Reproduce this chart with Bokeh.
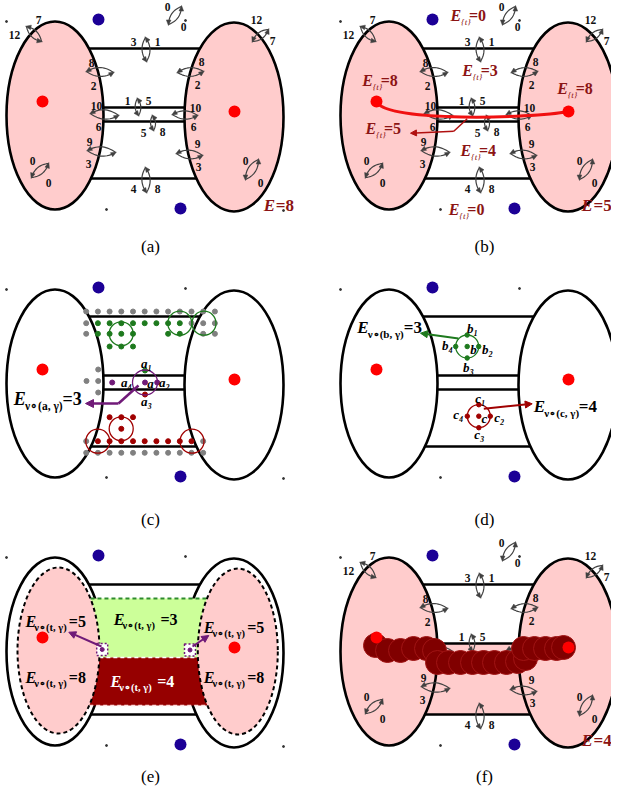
import numpy as np
from bokeh.plotting import figure
from bokeh.models import Range1d, Arrow, NormalHead
from bokeh.embed import file_html
from bokeh.resources import INLINE
from bokeh.core.properties import value

# ---------------- colours / fonts ----------------
FONT = "Liberation Serif"
PINK = "#ffcccc"
RED = "#ff0000"
BLUE = "#1c0096"
DRED_TXT = "#8c1414"
ARROW_GRAY = "#404040"
GREEN = "#1e7a1e"
CRED = "#a00000"
GRAY = "#808080"
PURPLE = "#701a78"
LGREEN = "#ccff99"
DKRED = "#960000"

# ---------------- panels ----------------
PANEL_LABELS = ["(a)", "(b)", "(c)", "(d)", "(e)", "(f)"]
PANEL_DX = [0, 334, 0, 334, 0, 334]
PANEL_DY = [0, 0, 268, 268, 536, 536]
CAPTION_X = [150, 484, 150, 484, 150, 484]
CAPTION_Y = [246, 246, 519, 519, 776, 776]

# base geometry (panel a coordinates)
ELL_X = [54.5, 233.5]
ELL_Y = [115, 116.5]
ELL_W = [97, 99]
ELL_H = [188, 189]
RED_DOT_X = [42, 234]
RED_DOT_Y = [101, 111]
BLUE_DOT_X = [98, 180]
BLUE_DOT_Y = [19, 208]
LINE_Y = [48, 107, 121, 178]
SPECK_X = [6, 185, 106, 283]
SPECK_Y = [21, 20, 209, 210]

# double arrows (panel a coordinates)
ARR_X1 = [26, 145, 181, 268, 86, 177, 90, 137, 152, 172, 87, 176, 48, 145, 258]
ARR_Y1 = [26, 37, 6, 29, 71, 72, 113, 98, 115, 114, 150, 153, 163, 167, 159]
ARR_X2 = [41, 146, 168, 252, 113, 203, 118, 138, 153, 197, 115, 202, 31, 146, 245]
ARR_Y2 = [41, 61, 24, 41, 72, 71, 115, 115, 130, 115, 152, 155, 177, 192, 179]
NUM_TEXT = ["7", "12", "3", "1", "0", "0", "12", "7", "8", "2", "8", "2", "10", "6",
            "1", "5", "5", "8", "10", "6", "9", "3", "9", "3", "0", "0", "4", "8", "0", "0"]
NUM_X = [38, 14, 133, 157, 167, 183, 256, 272, 91, 93, 201, 197, 96, 98,
         127, 148, 143, 162, 195, 193, 89, 88, 197, 198, 32, 48, 133, 157, 245, 260]
NUM_Y = [19, 34, 41, 41, 6, 26, 19, 40, 62, 85, 61, 84, 105, 126,
         100, 100, 132, 131, 107, 126, 141, 163, 143, 166, 160, 182, 188, 188, 160, 182]

# panel (b) energy labels: x of E, y, value
B_EX = [450, 461.7, 361.7, 556.7, 365, 460, 448.3]
B_EY = [15, 70.3, 80, 88.3, 128.3, 150, 209.3]
B_VAL = ["=0", "=3", "=8", "=8", "=5", "=4", "=0"]
E_TOTAL = ["E=8", "E=5", None, None, None, "E=4"]
E_TOTAL_X = [263.3, 581, 0, 0, 0, 581]
E_TOTAL_Y = [205, 205, 0, 0, 0, 740]

# panel (c) grid of dots
GRID_X0, GRID_DX = 85.7, 11.7
GRID_ROWS_Y = [311, 322.7, 333.3, 346, 416.7, 428.3, 440.7, 452.3]
GRID_ROWS = ["kkkkkkkkkkkk", "kggggggggkkk", "kgggg..gg.kk", "..ggg.......",
             "..rrr.......", "...r........", "krrrrrrrrrk.", "kkkkkkkkkkk."]
C_GCIRC_X = [120.7, 179.3, 203.5]
C_GCIRC_Y = [333.3, 322.7, 322.7]
C_RCIRC_X = [120.7, 97.3, 191.5]
C_RCIRC_Y = [428.3, 440.7, 440.7]

# panel (f) blob of circles
BLOB_X = [375, 387, 400, 413, 426, 434, 437, 448, 460, 472, 483, 494, 506, 517, 525,
          523, 534, 545, 556, 563]
BLOB_Y = [645, 650, 650, 648, 648, 650, 662, 662, 662, 662, 662, 662, 662, 661, 658,
          648, 648, 648, 648, 647]

# ---------------- figure ----------------
W, H = 611, 786
p = figure(width=W, height=H, x_range=Range1d(0, W), y_range=Range1d(H, 0),
           output_backend="svg", toolbar_location=None, min_border=0,
           x_axis_location=None, y_axis_location=None)
p.grid.visible = False
p.outline_line_color = None
p.background_fill_color = "white"


def ell_x(cx, cy, w, h, y, side):
    t = max(0.0, 1 - ((y - cy) / (h / 2)) ** 2)
    return cx + side * (w / 2) * np.sqrt(t)


def txt(x, y, s, size, color="black", style="normal", align="center", baseline="middle"):
    p.text(x=[x], y=[y], text=[s], text_font=value(FONT), text_font_size=f"{size}px",
           text_font_style=style, text_color=color, text_align=align, text_baseline=baseline)


def elabel(xe, ye, sub, xr, rest, color, size=16, sub_size=9, sub_style="italic", ew=0.68):
    txt(xe, ye, "E", size, color, "bold italic", "left")
    txt(xe + ew * size, ye + 0.38 * size, sub, sub_size, color, sub_style, "left")
    txt(xr, ye, rest, size, color, "bold", "left")


def qbez(a, c, b, n=18):
    t = np.linspace(0, 1, n)[:, None]
    return (1 - t) ** 2 * a + 2 * (1 - t) * t * c + t ** 2 * b


cx_l, cy_l, hx_l, hy_l = [], [], [], []


def double_arrow(x1, y1, x2, y2):
    P1 = np.array([x1, y1], float)
    P2 = np.array([x2, y2], float)
    d = P2 - P1
    L = np.hypot(*d)
    u = d / L
    nv = np.array([-u[1], u[0]])
    bb = 0.33 * L
    mid = (P1 + P2) / 2
    for a, b, s in ((P1, P2, 1), (P2, P1, -1)):
        c = mid + s * nv * bb
        pts = qbez(a, c, b)
        cx_l.append(list(pts[:-2, 0]))
        cy_l.append(list(pts[:-2, 1]))
        tg = b - c
        tg = tg / np.hypot(*tg)
        pn = np.array([-tg[1], tg[0]])
        tip = b + tg * 1.0
        base = b - tg * 4.5
        hx_l.append([tip[0], base[0] + pn[0] * 2.3, base[0] - pn[0] * 2.3])
        hy_l.append([tip[1], base[1] + pn[1] * 2.3, base[1] - pn[1] * 2.3])


def add_arrow(xs, ys, color, width=2, head=8):
    if len(xs) > 2:
        p.line(xs[:-1], ys[:-1], line_color=color, line_width=width)
    p.add_layout(Arrow(end=NormalHead(size=head, fill_color=color, line_color=color),
                       x_start=xs[-2], y_start=ys[-2], x_end=xs[-1], y_end=ys[-1],
                       line_color=color, line_width=width))


# ---------------- base of each panel ----------------
for i in range(6):
    dx, dy = PANEL_DX[i], PANEL_DY[i]
    ex = [x + dx for x in ELL_X]
    ey = [y + dy for y in ELL_Y]
    fill = PINK if i in (0, 1, 5) else "white"
    if i == 5:
        p.quad(left=[ex[0]], right=[ex[1]], top=[LINE_Y[1] + dy], bottom=[LINE_Y[3] + dy],
               fill_color=PINK, line_color=None)
    p.ellipse(x=ex, y=ey, width=ELL_W, height=ELL_H, fill_color=fill,
              line_color="black", line_width=2.6)
    ys = LINE_Y if i != 4 else [LINE_Y[0], LINE_Y[3]]
    xs0, xs1, yy = [], [], []
    for y in ys:
        yyy = y + dy
        xs0.append(ell_x(ex[0], ey[0], ELL_W[0], ELL_H[0], yyy, 1))
        xs1.append(ell_x(ex[1], ey[1], ELL_W[1], ELL_H[1], yyy, -1))
        yy.append(yyy)
    p.segment(x0=xs0, y0=yy, x1=xs1, y1=yy, line_color="black", line_width=2.6)
    p.scatter(x=[x + dx for x in SPECK_X], y=[y + dy for y in SPECK_Y], size=2,
              color="#333333")
    txt(CAPTION_X[i], CAPTION_Y[i], PANEL_LABELS[i], 17, "black", "normal")

# ---------------- panel (e) inner regions ----------------
DE_X = [58, 237.3]
DE_Y = [650, 651]
DE_W = [82, 80]
DE_H = [166, 166]
p.ellipse(x=DE_X, y=DE_Y, width=DE_W, height=DE_H, fill_color=PINK, line_color=None)


def band(y0, y1, n=20):
    yl = np.linspace(y0, y1, n)
    left = [ell_x(DE_X[0], DE_Y[0], DE_W[0], DE_H[0], y, 1) for y in yl]
    right = [ell_x(DE_X[1], DE_Y[1], DE_W[1], DE_H[1], y, -1) for y in yl[::-1]]
    return left + right, list(yl) + list(yl[::-1])


gx, gy = band(598, 657)
rx, ry = band(657, 705)
p.patch(gx, gy, fill_color=LGREEN, line_color=None)
p.patch(rx, ry, fill_color=DKRED, line_color=None)
p.line([gx[0], gx[-1]], [598, 598], line_color="#2e8b2e", line_width=2, line_dash="4 3")
p.line([rx[0], rx[-1]], [657, 657], line_color="white", line_width=1.5, line_dash="4 3")
p.line([rx[19], rx[20]], [705, 705], line_color="#ffdddd", line_width=1.5, line_dash="4 3")
p.ellipse(x=DE_X, y=DE_Y, width=DE_W, height=DE_H, fill_color=None, line_color="black",
          line_width=2, line_dash="4 3")
# purple squares
p.rect(x=[101.7, 189.5], y=[649, 649.5], width=11, height=12, fill_color="white",
       line_color=PURPLE, line_width=1.5, line_dash="2 2")
p.scatter(x=[101.7, 189.5], y=[649, 649.5], size=4, color=PURPLE)

# ---------------- double arrows in (a), (b), (f) ----------------
for i in (0, 1, 5):
    dx, dy = PANEL_DX[i], PANEL_DY[i]
    for k in range(len(ARR_X1)):
        double_arrow(ARR_X1[k] + dx, ARR_Y1[k] + dy, ARR_X2[k] + dx, ARR_Y2[k] + dy)
p.multi_line(xs=cx_l, ys=cy_l, line_color=ARROW_GRAY, line_width=1.2)
p.patches(xs=hx_l, ys=hy_l, fill_color=ARROW_GRAY, line_color=ARROW_GRAY, line_width=0.5)

for i in (0, 1, 5):
    dx, dy = PANEL_DX[i], PANEL_DY[i]
    p.text(x=[x + dx for x in NUM_X], y=[y + dy for y in NUM_Y], text=NUM_TEXT,
           text_font=value(FONT), text_font_size="11.5px", text_font_style="bold",
           text_color="#111111", text_align="center", text_baseline="middle")

# ---------------- panel (b) red path ----------------
p.bezier(x0=[376], y0=[101], x1=[568], y1=[111], cx0=[385], cy0=[122], cx1=[530], cy1=[118],
         line_color="#f01010", line_width=3)
add_arrow([466.7, 453.3, 410], [118.3, 130.7, 132.7], "#b01010", width=1.5, head=6)

# ---------------- panel (c) dots ----------------
cmap = {"k": GRAY, "g": GREEN, "r": CRED}
dxs, dys, dcs = [], [], []
for ry_, row in zip(GRID_ROWS_Y, GRID_ROWS):
    for j, ch in enumerate(row):
        if ch in cmap:
            dxs.append(GRID_X0 + j * GRID_DX)
            dys.append(ry_)
            dcs.append(cmap[ch])
p.scatter(x=dxs, y=dys, size=5, color=dcs)
p.circle(x=C_GCIRC_X, y=C_GCIRC_Y, radius=12, fill_color=None, line_color=GREEN, line_width=1.3)
p.circle(x=C_RCIRC_X, y=C_RCIRC_Y, radius=12, fill_color=None, line_color=CRED, line_width=1.3)
# middle of (c)
p.scatter(x=[97.7, 86, 97.7, 97.7], y=[369, 380.5, 380.5, 392], size=5, color=GRAY)
p.scatter(x=[111.7, 144.5, 156.7], y=[382, 382, 382], size=5, color=PURPLE)
p.scatter(x=[144.5], y=[370], size=5, color=GREEN)
p.scatter(x=[144.5], y=[394], size=5, color=CRED)
p.circle(x=[144.5], y=[382], radius=12.5, fill_color=None, line_color=PURPLE, line_width=1.3)
for s, x, y in (("a₁", 146, 363), ("a₄", 126, 382), ("a", 150, 383), ("a₂", 164, 382),
                ("a₃", 146, 401)):
    txt(x, y, s, 13, "black", "bold italic")
add_arrow([138, 118, 85], [385, 403, 403], PURPLE, width=2.5, head=8)
elabel(13.3, 398.3, "ν∘(a, γ)", 62, "=3", "black", size=18, sub_size=11.5,
       sub_style="bold", ew=0.62)

# ---------------- panel (d) ----------------
p.circle(x=[466.7], y=[346], radius=11.5, fill_color=None, line_color=GREEN, line_width=1.3)
p.scatter(x=[466.7, 466.7, 466.7, 455.2, 478.2], y=[346, 334.5, 357.5, 346, 346], size=4.5,
          color=GREEN)
for s, x, y in (("b₁", 472, 328), ("b₄", 447, 345), ("b", 473, 349), ("b₂", 487, 349),
                ("b₃", 468, 367)):
    txt(x, y, s, 13, "black", "bold italic")
p.circle(x=[478.3], y=[415.7], radius=11.5, fill_color=None, line_color=CRED, line_width=1.3)
p.scatter(x=[478.3, 478.3, 478.3, 466.8, 489.8], y=[415.7, 404.2, 427.2, 415.7, 415.7],
          size=4.5, color=CRED)
for s, x, y in (("c₁", 480, 398), ("c₄", 458, 414), ("c", 484, 418), ("c₂", 499, 417),
                ("c₃", 479, 434)):
    txt(x, y, s, 13, "black", "bold italic")
add_arrow([458, 420], [338, 332.7], GREEN, width=2, head=7)
add_arrow([483.3, 531.7], [408.3, 403.3], CRED, width=2, head=7)
elabel(356.7, 326.7, "ν∘(b, γ)", 403.3, "=3", "black", size=17, sub_size=11,
       sub_style="bold", ew=0.62)
elabel(533.3, 406, "ν∘(c, γ)", 578.3, "=4", "black", size=17, sub_size=11,
       sub_style="bold", ew=0.62)

# ---------------- panel (e) labels / arrows ----------------
add_arrow([101, 68.3], [646, 631.7], PURPLE, width=2, head=7)
add_arrow([192, 208.3], [646, 635], PURPLE, width=2, head=7)
for xe, ye, xr, rest, col in ((25, 621, 68.3, "=5", "black"), (113.3, 619, 160, "=3", "black"),
                               (203.3, 627.3, 246.7, "=5", "black"), (25, 676.7, 68.3, "=8", "black"),
                               (110, 680.7, 156.7, "=4", "white"),
                               (203.3, 676.7, 246.7, "=8", "black")):
    elabel(xe, ye, "ν∘(t, γ)", xr, rest, col, size=16, sub_size=10.5, sub_style="bold", ew=0.55)

# ---------------- panel (f) blob ----------------
p.circle(x=BLOB_X, y=BLOB_Y, radius=12, fill_color="#800000", line_color="#a01414",
         line_width=1)

# ---------------- dots (all panels) ----------------
for i in range(6):
    dx, dy = PANEL_DX[i], PANEL_DY[i]
    p.circle(x=[x + dx for x in RED_DOT_X], y=[y + dy for y in RED_DOT_Y], radius=6,
             fill_color=RED, line_color=None)
    p.circle(x=[x + dx for x in BLUE_DOT_X], y=[y + dy for y in BLUE_DOT_Y], radius=6,
             fill_color=BLUE, line_color=None)

# ---------------- energy labels ----------------
for i, lab in enumerate(E_TOTAL):
    if lab:
        x0, y0 = E_TOTAL_X[i], E_TOTAL_Y[i]
        txt(x0, y0, "E", 17, DRED_TXT, "bold italic", "left")
        txt(x0 + 12, y0, lab[1:], 17, DRED_TXT, "bold", "left")
for xe, ye, v in zip(B_EX, B_EY, B_VAL):
    elabel(xe, ye, "{t}", xe + 18.5, v, DRED_TXT, size=16, sub_size=9, sub_style="italic",
           ew=0.66)

open("out.html", "w").write(file_html(p, INLINE))
